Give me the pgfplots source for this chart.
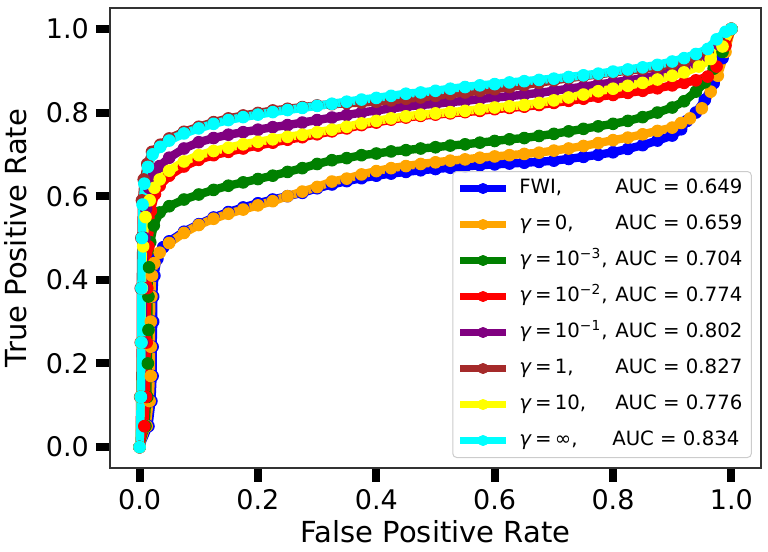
\documentclass[border=0pt]{standalone}
\usepackage{fontspec}
\setmainfont{DejaVu Sans}
\usepackage{pgfplots}
\pgfplotsset{compat=1.18}
\definecolor{mblue}{rgb}{0,0,1}
\definecolor{morange}{rgb}{1,0.647,0}
\definecolor{mgreen}{rgb}{0,0.502,0}
\definecolor{mred}{rgb}{1,0,0}
\definecolor{mpurple}{rgb}{0.502,0,0.502}
\definecolor{mbrown}{rgb}{0.647,0.165,0.165}
\definecolor{myellow}{rgb}{1,1,0}
\definecolor{mcyan}{rgb}{0,1,1}
\newcommand{\g}{\textit{γ}\,=\,}
\newcommand{\lab}[3][48pt]{\hspace*{4pt}\makebox[#1][l]{#2}AUC = #3\hspace*{1.5pt}}
\begin{document}
\begin{tikzpicture}
\path[use as bounding box] (-55pt,-42pt) rectangle (329pt,234pt);
\begin{axis}[
  scale only axis, width=325.5pt, height=230pt,
  xmin=-0.05, xmax=1.05, ymin=-0.05, ymax=1.05,
  axis line style={line width=0.6pt, black!80},
  xtick={0,0.2,0.4,0.6,0.8,1}, ytick={0,0.2,0.4,0.6,0.8,1},
  xticklabels={0.0,0.2,0.4,0.6,0.8,1.0},
  yticklabels={0.0,0.2,0.4,0.6,0.8,1.0},
  xtick pos=bottom, ytick pos=left,
  tick align=outside,
  major tick length=7pt,
  every tick/.style={black, line width=4pt},
  minor tick num=0,
  tick label style={font=\fontsize{13.5}{16}\selectfont},
  xlabel={False Positive Rate}, ylabel={True Positive Rate},
  label style={font=\fontsize{14.5}{17}\selectfont},
  xlabel style={at={(axis description cs:0.5,-0.163)}, anchor=base},
  ylabel style={at={(axis description cs:-0.1275,0.5)}, anchor=base},
  every axis plot/.append style={line width=4.2pt, mark=*, mark size=2.9pt, line join=round, mark options={line width=0.5pt, solid}},
  legend cell align=left,
  legend style={at={(axis description cs:0.986,0.0217)}, anchor=south east,
    draw=black!20, line width=0.5pt, rounded corners=2pt, fill=white, fill opacity=0.8, text opacity=1,
    font=\fontsize{9.85}{12}\selectfont, inner xsep=2pt, inner ysep=3.5pt, row sep=8pt,
    nodes={inner xsep=1pt, inner ysep=0pt, text height=7.5pt, text depth=2.5pt}},
  legend image code/.code={\draw[#1, line width=3.5pt, fill opacity=1, mark repeat=2, mark phase=2, mark size=2.5pt] plot coordinates {(0cm,0cm) (0.4cm,0cm) (0.8cm,0cm)};},
]
% FWI
\addplot[color=mblue] coordinates {
(0,0) (0.015,0.05) (0.02,0.11) (0.022,0.17) (0.022,0.24) (0.023,0.3) (0.023,0.36) (0.025,0.41) (0.03,0.45) (0.04,0.478)
(0.05,0.492) (0.075,0.515) (0.1,0.533) (0.125,0.549) (0.15,0.562) (0.175,0.573) (0.2,0.583) (0.225,0.592) (0.25,0.600)
(0.275,0.608) (0.3,0.619) (0.325,0.628) (0.35,0.636) (0.375,0.643) (0.4,0.649) (0.425,0.654) (0.45,0.658) (0.475,0.662)
(0.5,0.665) (0.525,0.668) (0.55,0.671) (0.575,0.674) (0.6,0.676) (0.625,0.678) (0.65,0.680) (0.675,0.682) (0.7,0.685)
(0.725,0.689) (0.75,0.694) (0.775,0.699) (0.8,0.705) (0.825,0.713) (0.85,0.722) (0.875,0.733) (0.9,0.745)
(0.915,0.76) (0.925,0.78) (0.94,0.80) (0.955,0.83) (0.97,0.87) (0.985,0.93) (1,1)};
\addlegendentry{\lab{FWI,}{0.649}}
% gamma = 0
\addplot[color=morange] coordinates {
(0,0) (0.012,0.05) (0.017,0.11) (0.019,0.17) (0.019,0.24) (0.019,0.3) (0.02,0.36) (0.021,0.41) (0.025,0.44) (0.034,0.465)
(0.05,0.488) (0.075,0.512) (0.1,0.531) (0.125,0.546) (0.15,0.558) (0.175,0.568) (0.2,0.578) (0.225,0.588) (0.25,0.600)
(0.275,0.611) (0.3,0.622) (0.325,0.635) (0.35,0.642) (0.375,0.652) (0.4,0.660) (0.425,0.667) (0.45,0.672) (0.475,0.677)
(0.5,0.681) (0.525,0.685) (0.55,0.688) (0.575,0.692) (0.6,0.695) (0.625,0.698) (0.65,0.701) (0.675,0.704) (0.7,0.709)
(0.725,0.714) (0.75,0.720) (0.775,0.727) (0.8,0.734) (0.825,0.740) (0.85,0.748) (0.875,0.756) (0.9,0.764)
(0.915,0.775) (0.93,0.786) (0.95,0.81) (0.965,0.85) (0.977,0.888) (0.99,0.945) (1,1)};
\addlegendentry{\lab{\g0,}{0.659}}
% gamma = 1e-3
\addplot[color=mgreen] coordinates {
(0,0) (0.01,0.05) (0.013,0.12) (0.014,0.2) (0.015,0.28) (0.015,0.36) (0.016,0.43) (0.018,0.49) (0.024,0.53) (0.034,0.561)
(0.05,0.576) (0.075,0.592) (0.1,0.604) (0.125,0.615) (0.15,0.625) (0.175,0.633) (0.2,0.641) (0.225,0.649) (0.25,0.658)
(0.275,0.667) (0.3,0.677) (0.325,0.686) (0.35,0.691) (0.375,0.698) (0.4,0.702) (0.425,0.707) (0.45,0.710) (0.475,0.714)
(0.5,0.717) (0.525,0.721) (0.55,0.724) (0.575,0.728) (0.6,0.732) (0.625,0.736) (0.65,0.739) (0.675,0.744) (0.7,0.749)
(0.725,0.755) (0.75,0.761) (0.775,0.767) (0.8,0.773) (0.825,0.780) (0.85,0.789) (0.875,0.800) (0.9,0.812)
(0.92,0.827) (0.94,0.85) (0.955,0.872) (0.97,0.905) (0.985,0.945) (1,1)};
\addlegendentry{\lab{\g10\textsuperscript{−3},}{0.704}}
% gamma = 1e-2
\addplot[color=mred] coordinates {
(0,0) (0.008,0.05) (0.011,0.12) (0.012,0.25) (0.013,0.38) (0.015,0.48) (0.019,0.565) (0.026,0.605) (0.034,0.625)
(0.05,0.649) (0.075,0.671) (0.1,0.687) (0.125,0.698) (0.15,0.706) (0.175,0.714) (0.2,0.721) (0.225,0.728) (0.25,0.735)
(0.275,0.741) (0.3,0.748) (0.325,0.755) (0.35,0.762) (0.375,0.770) (0.4,0.776) (0.425,0.783) (0.45,0.788) (0.475,0.792)
(0.5,0.795) (0.525,0.798) (0.55,0.801) (0.575,0.804) (0.6,0.808) (0.625,0.811) (0.65,0.814) (0.675,0.818) (0.7,0.823)
(0.725,0.828) (0.75,0.833) (0.775,0.838) (0.8,0.842) (0.825,0.847) (0.85,0.852) (0.875,0.858) (0.9,0.865)
(0.92,0.871) (0.94,0.877) (0.96,0.886) (0.975,0.91) (0.99,0.96) (1,1)};
\addlegendentry{\lab{\g10\textsuperscript{−2},}{0.774}}
% gamma = 1e-1
\addplot[color=mpurple] coordinates {
(0,0) (0.003,0.12) (0.005,0.25) (0.006,0.38) (0.008,0.5) (0.011,0.57) (0.016,0.62) (0.024,0.648) (0.034,0.672)
(0.05,0.692) (0.075,0.714) (0.1,0.729) (0.125,0.739) (0.15,0.747) (0.175,0.753) (0.2,0.759) (0.225,0.765) (0.25,0.770)
(0.275,0.776) (0.3,0.782) (0.325,0.788) (0.35,0.794) (0.375,0.800) (0.4,0.805) (0.425,0.810) (0.45,0.814) (0.475,0.818)
(0.5,0.821) (0.525,0.825) (0.55,0.828) (0.575,0.832) (0.6,0.836) (0.625,0.839) (0.65,0.843) (0.675,0.847) (0.7,0.852)
(0.725,0.857) (0.75,0.862) (0.775,0.867) (0.8,0.872) (0.825,0.877) (0.85,0.882) (0.875,0.889) (0.9,0.898)
(0.92,0.906) (0.94,0.918) (0.96,0.935) (0.98,0.962) (1,1)};
\addlegendentry{\lab{\g10\textsuperscript{−1},}{0.802}}
% gamma = 1
\addplot[color=mbrown] coordinates {
(0,0) (0.001,0.12) (0.002,0.25) (0.002,0.38) (0.003,0.5) (0.004,0.59) (0.007,0.64) (0.013,0.677) (0.021,0.706) (0.035,0.723)
(0.05,0.738) (0.075,0.754) (0.1,0.766) (0.125,0.777) (0.15,0.786) (0.175,0.793) (0.2,0.799) (0.225,0.805) (0.25,0.809)
(0.275,0.813) (0.3,0.817) (0.325,0.820) (0.35,0.822) (0.375,0.824) (0.4,0.826) (0.425,0.829) (0.45,0.833) (0.475,0.836)
(0.5,0.840) (0.525,0.844) (0.55,0.848) (0.575,0.852) (0.6,0.856) (0.625,0.861) (0.65,0.866) (0.675,0.871) (0.7,0.877)
(0.725,0.882) (0.75,0.887) (0.775,0.891) (0.8,0.896) (0.825,0.900) (0.85,0.904) (0.875,0.909) (0.9,0.915)
(0.92,0.921) (0.94,0.93) (0.96,0.945) (0.98,0.97) (1,1)};
\addlegendentry{\lab{\g1,}{0.827}}
% gamma = 10
\addplot[color=myellow] coordinates {
(0,0) (0.002,0.12) (0.003,0.25) (0.004,0.38) (0.006,0.48) (0.01,0.55) (0.017,0.59) (0.025,0.62) (0.034,0.64)
(0.05,0.661) (0.075,0.683) (0.1,0.698) (0.125,0.708) (0.15,0.716) (0.175,0.724) (0.2,0.730) (0.225,0.736) (0.25,0.742)
(0.275,0.747) (0.3,0.753) (0.325,0.759) (0.35,0.766) (0.375,0.774) (0.4,0.780) (0.425,0.786) (0.45,0.791) (0.475,0.795)
(0.5,0.798) (0.525,0.801) (0.55,0.804) (0.575,0.808) (0.6,0.812) (0.625,0.815) (0.65,0.818) (0.675,0.823) (0.7,0.829)
(0.725,0.836) (0.75,0.843) (0.775,0.851) (0.8,0.857) (0.825,0.864) (0.85,0.871) (0.875,0.879) (0.9,0.888)
(0.92,0.896) (0.945,0.91) (0.965,0.928) (0.985,0.958) (1,1)};
\addlegendentry{\lab{\g10,}{0.776}}
% gamma = inf
\addplot[color=mcyan] coordinates {
(0,0) (0.002,0.12) (0.003,0.25) (0.003,0.38) (0.004,0.5) (0.005,0.58) (0.008,0.63) (0.014,0.67) (0.022,0.70) (0.035,0.718)
(0.05,0.733) (0.075,0.75) (0.1,0.762) (0.125,0.773) (0.15,0.782) (0.175,0.789) (0.2,0.795) (0.225,0.801) (0.25,0.806)
(0.275,0.811) (0.3,0.816) (0.325,0.821) (0.35,0.826) (0.375,0.831) (0.4,0.835) (0.425,0.840) (0.45,0.845) (0.475,0.848)
(0.5,0.852) (0.525,0.857) (0.55,0.861) (0.575,0.865) (0.6,0.868) (0.625,0.872) (0.65,0.875) (0.675,0.878) (0.7,0.881)
(0.725,0.885) (0.75,0.889) (0.775,0.893) (0.8,0.898) (0.825,0.903) (0.85,0.908) (0.875,0.914) (0.9,0.922)
(0.92,0.93) (0.94,0.94) (0.96,0.952) (0.975,0.975) (0.99,0.993) (1,1)};
\addlegendentry{\lab[46.5pt]{\g∞,}{0.834}}
\end{axis}
\end{tikzpicture}
\end{document}
